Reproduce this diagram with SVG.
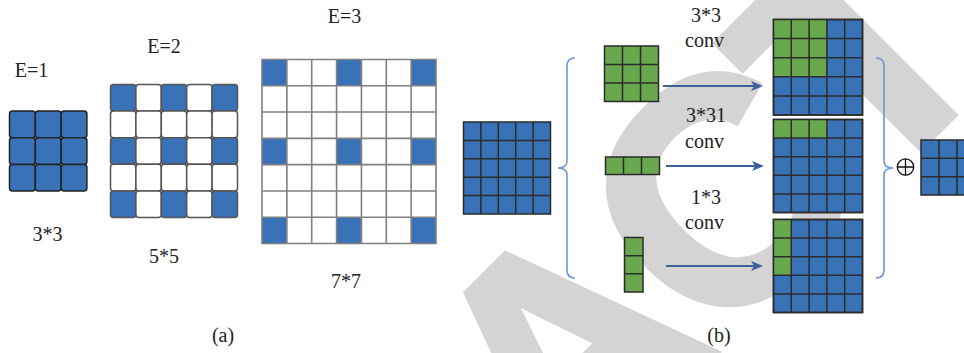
<svg xmlns="http://www.w3.org/2000/svg" width="964" height="353" viewBox="0 0 964 353">
<defs>
<style>
.t{font-family:'Liberation Serif','Times New Roman',serif;font-size:20px;fill:#222;text-anchor:middle}
.blue{fill:#3a72b8}
.green{fill:#6aa84f}
.white{fill:#fff}
.rc1{stroke:#222;stroke-width:1.5}
.rc2{stroke:#555;stroke-width:1.5}
.gl7{fill:none;stroke:#808080;stroke-width:1.6}
.gl{fill:none;stroke:#2b2b2b;stroke-width:1.5}
.out{stroke:#2b2b2b;stroke-width:1.5}
.arrow{stroke:#3f5f9b;stroke-width:2;fill:none}
.brace{stroke:#6d95d5;stroke-width:1.6;fill:none}
</style>
<marker id="ah" viewBox="0 0 12 10" markerWidth="12" markerHeight="10" refX="6" refY="5" orient="auto" markerUnits="userSpaceOnUse">
<path d="M0,0 L12,5 L0,10 L3,5 z" fill="#3f5f9b"/>
</marker>
</defs>
<rect width="964" height="353" fill="#fff"/>
<g id="watermark">
<text transform="translate(547.1,521.1) rotate(-45)" font-family="'Liberation Sans', Arial, sans-serif" font-weight="bold" font-size="316" fill="#d4d4d4" stroke="#d4d4d4" stroke-width="8" stroke-linejoin="miter"><tspan x="18" y="0">A</tspan><tspan x="240" y="0">C</tspan><tspan x="455" y="0">T</tspan></text>
</g>
<g id="grid-e1">
<text class="t" font-family="'Liberation Serif', 'Times New Roman', serif" x="31.5" y="77">E=1</text>
<g class="blue rc1">
<rect x="9.5" y="111" width="25.8" height="26.7" rx="3"/><rect x="35.3" y="111" width="25.8" height="26.7" rx="3"/><rect x="61.1" y="111" width="25.8" height="26.7" rx="3"/>
<rect x="9.5" y="137.7" width="25.8" height="26.7" rx="3"/><rect x="35.3" y="137.7" width="25.8" height="26.7" rx="3"/><rect x="61.1" y="137.7" width="25.8" height="26.7" rx="3"/>
<rect x="9.5" y="164.4" width="25.8" height="26.7" rx="3"/><rect x="35.3" y="164.4" width="25.8" height="26.7" rx="3"/><rect x="61.1" y="164.4" width="25.8" height="26.7" rx="3"/>
</g>
<text class="t" font-family="'Liberation Serif', 'Times New Roman', serif" x="47.5" y="241">3*3</text>
</g>
<g id="grid-e2">
<text class="t" font-family="'Liberation Serif', 'Times New Roman', serif" x="164" y="53">E=2</text>
<g class="rc2">
<rect class="blue" x="110.5" y="84.5" width="25.4" height="26.6" rx="3"/><rect class="white" x="135.9" y="84.5" width="25.4" height="26.6" rx="3"/><rect class="blue" x="161.3" y="84.5" width="25.4" height="26.6" rx="3"/><rect class="white" x="186.7" y="84.5" width="25.4" height="26.6" rx="3"/><rect class="blue" x="212.1" y="84.5" width="25.4" height="26.6" rx="3"/>
<rect class="white" x="110.5" y="111.1" width="25.4" height="26.6" rx="3"/><rect class="white" x="135.9" y="111.1" width="25.4" height="26.6" rx="3"/><rect class="white" x="161.3" y="111.1" width="25.4" height="26.6" rx="3"/><rect class="white" x="186.7" y="111.1" width="25.4" height="26.6" rx="3"/><rect class="white" x="212.1" y="111.1" width="25.4" height="26.6" rx="3"/>
<rect class="blue" x="110.5" y="137.7" width="25.4" height="26.6" rx="3"/><rect class="white" x="135.9" y="137.7" width="25.4" height="26.6" rx="3"/><rect class="blue" x="161.3" y="137.7" width="25.4" height="26.6" rx="3"/><rect class="white" x="186.7" y="137.7" width="25.4" height="26.6" rx="3"/><rect class="blue" x="212.1" y="137.7" width="25.4" height="26.6" rx="3"/>
<rect class="white" x="110.5" y="164.3" width="25.4" height="26.6" rx="3"/><rect class="white" x="135.9" y="164.3" width="25.4" height="26.6" rx="3"/><rect class="white" x="161.3" y="164.3" width="25.4" height="26.6" rx="3"/><rect class="white" x="186.7" y="164.3" width="25.4" height="26.6" rx="3"/><rect class="white" x="212.1" y="164.3" width="25.4" height="26.6" rx="3"/>
<rect class="blue" x="110.5" y="190.9" width="25.4" height="26.6" rx="3"/><rect class="white" x="135.9" y="190.9" width="25.4" height="26.6" rx="3"/><rect class="blue" x="161.3" y="190.9" width="25.4" height="26.6" rx="3"/><rect class="white" x="186.7" y="190.9" width="25.4" height="26.6" rx="3"/><rect class="blue" x="212.1" y="190.9" width="25.4" height="26.6" rx="3"/>
</g>
<text class="t" font-family="'Liberation Serif', 'Times New Roman', serif" x="164" y="263">5*5</text>
</g>
<g id="grid-e3">
<text class="t" font-family="'Liberation Serif', 'Times New Roman', serif" x="344.5" y="23">E=3</text>
<rect class="white" x="262" y="59.5" width="174" height="184"/>
<g class="blue">
<rect x="262" y="59.5" width="24.86" height="26.29"/><rect x="336.57" y="59.5" width="24.86" height="26.29"/><rect x="411.14" y="59.5" width="24.86" height="26.29"/>
<rect x="262" y="138.36" width="24.86" height="26.29"/><rect x="336.57" y="138.36" width="24.86" height="26.29"/><rect x="411.14" y="138.36" width="24.86" height="26.29"/>
<rect x="262" y="217.21" width="24.86" height="26.29"/><rect x="336.57" y="217.21" width="24.86" height="26.29"/><rect x="411.14" y="217.21" width="24.86" height="26.29"/>
</g>
<path class="gl7" d="M262,59.5H436V243.5H262Z M286.86,59.5V243.5 M311.71,59.5V243.5 M336.57,59.5V243.5 M361.43,59.5V243.5 M386.29,59.5V243.5 M411.14,59.5V243.5 M262,85.79H436 M262,112.07H436 M262,138.36H436 M262,164.64H436 M262,190.93H436 M262,217.21H436"/>
<text class="t" font-family="'Liberation Serif', 'Times New Roman', serif" x="346" y="288">7*7</text>
</g>
<g id="input-map">
<rect class="blue out" x="463.5" y="122" width="87" height="92"/>
<path class="gl" d="M480.9,122V214 M498.3,122V214 M515.7,122V214 M533.1,122V214 M463.5,140.4H550.5 M463.5,158.8H550.5 M463.5,177.2H550.5 M463.5,195.6H550.5"/>
</g>
<g id="kernel-3x3">
<rect class="green out" x="604.5" y="46" width="54" height="55.5"/>
<path class="gl" d="M622.5,46V101.5 M640.5,46V101.5 M604.5,64.5H658.5 M604.5,83H658.5"/>
<text class="t" font-family="'Liberation Serif', 'Times New Roman', serif" x="706" y="21.5">3*3</text>
<text class="t" font-family="'Liberation Serif', 'Times New Roman', serif" x="704.5" y="46.5">conv</text>
</g>
<g id="kernel-1x3">
<rect class="green out" x="605.5" y="157" width="54" height="17.5"/>
<path class="gl" d="M623.5,157V174.5 M641.5,157V174.5"/>
<text class="t" font-family="'Liberation Serif', 'Times New Roman', serif" x="706" y="121.5">3*31</text>
<text class="t" font-family="'Liberation Serif', 'Times New Roman', serif" x="704.5" y="147.5">conv</text>
</g>
<g id="kernel-3x1">
<rect class="green out" x="624.5" y="237.5" width="18.5" height="54.5"/>
<path class="gl" d="M624.5,255.7H643 M624.5,273.8H643"/>
<text class="t" font-family="'Liberation Serif', 'Times New Roman', serif" x="706" y="204">1*3</text>
<text class="t" font-family="'Liberation Serif', 'Times New Roman', serif" x="704.5" y="229">conv</text>
</g>
<g id="out-1">
<rect class="blue out" x="773.5" y="19.5" width="89" height="95.5"/>
<rect class="green" x="773.5" y="19.5" width="53.4" height="57.3"/>
<path class="gl" d="M773.5,19.5H862.5V115H773.5Z M791.3,19.5V115 M809.1,19.5V115 M826.9,19.5V115 M844.7,19.5V115 M773.5,38.6H862.5 M773.5,57.7H862.5 M773.5,76.8H862.5 M773.5,95.9H862.5"/>
</g>
<g id="out-2">
<rect class="blue out" x="773.5" y="119.5" width="89" height="93"/>
<rect class="green" x="773.5" y="119.5" width="53.4" height="18.6"/>
<path class="gl" d="M773.5,119.5H862.5V212.5H773.5Z M791.3,119.5V212.5 M809.1,119.5V212.5 M826.9,119.5V212.5 M844.7,119.5V212.5 M773.5,138.1H862.5 M773.5,156.7H862.5 M773.5,175.3H862.5 M773.5,193.9H862.5"/>
</g>
<g id="out-3">
<rect class="blue out" x="773.5" y="219.5" width="89" height="93"/>
<rect class="green" x="773.5" y="219.5" width="17.8" height="55.8"/>
<path class="gl" d="M773.5,219.5H862.5V312.5H773.5Z M791.3,219.5V312.5 M809.1,219.5V312.5 M826.9,219.5V312.5 M844.7,219.5V312.5 M773.5,238.1H862.5 M773.5,256.7H862.5 M773.5,275.3H862.5 M773.5,293.9H862.5"/>
</g>
<g id="sum">
<circle cx="905.5" cy="167" r="8.2" fill="none" stroke="#111" stroke-width="1.3"/>
<path d="M897.3,167H913.7 M905.5,158.8V175.2" stroke="#111" stroke-width="1.3"/>
</g>
<g id="result">
<rect class="blue out" x="921" y="140" width="54" height="55"/>
<path class="gl" d="M939,140V195 M957,140V195 M921,158.3H975 M921,176.7H975"/>
</g>
<g id="connectors">
<path class="brace" d="M575,58 Q567,58 567,66 L567,161 Q567,168 558,168 Q567,168 567,175 L567,270 Q567,278 575,278"/>
<path class="brace" d="M876,58 Q884,58 884,66 L884,161 Q884,168 893,168 Q884,168 884,175 L884,270 Q884,278 876,278"/>
<line class="arrow" x1="663" y1="86" x2="757" y2="86" marker-end="url(#ah)"/>
<line class="arrow" x1="666" y1="166" x2="758" y2="166" marker-end="url(#ah)"/>
<line class="arrow" x1="666" y1="266" x2="757" y2="266" marker-end="url(#ah)"/>
</g>
<g id="labels">
<text class="t" font-family="'Liberation Serif', 'Times New Roman', serif" x="223" y="342">(a)</text>
<text class="t" font-family="'Liberation Serif', 'Times New Roman', serif" x="719" y="342">(b)</text>
</g>
</svg>
